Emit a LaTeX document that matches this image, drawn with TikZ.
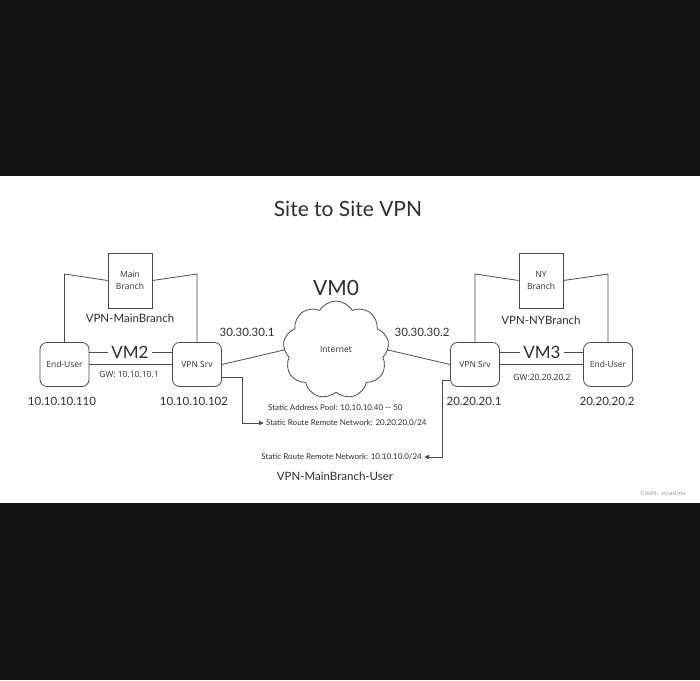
\documentclass[tikz,border=0pt]{standalone}
\usepackage{fontspec}
\setmainfont{Lato}
\newfontfamily\boxfont{Open Sans}
\usetikzlibrary{shapes.symbols,arrows.meta,calc}
\definecolor{linec}{HTML}{4A4A4A}
\definecolor{txt}{HTML}{2E2E2E}
\definecolor{bgdark}{HTML}{111111}
\definecolor{credit}{HTML}{9A9A9A}
\begin{document}
\begin{tikzpicture}[x=1pt,y=-1pt,
  wire/.style={draw=linec, line width=0.8pt},
  arr/.style={wire, -{Latex[length=5pt,width=5pt]}},
  dev/.style={draw=linec, line width=0.8pt, rounded corners=7pt, minimum width=49pt, minimum height=44pt, inner sep=0pt, font=\boxfont\fontsize{8.5}{10}\selectfont, text=txt},
  branch/.style={draw=linec, line width=0.8pt, minimum width=44pt, minimum height=55pt, inner sep=0pt, align=center, font=\boxfont\fontsize{8.5}{12}\selectfont, text=txt},
  lbl/.style={font=\fontsize{11.5}{13}\selectfont, text=txt, inner sep=1pt},
  vmlbl/.style={font=\fontsize{17}{19}\selectfont, text=txt, inner sep=3pt},
  small/.style={font=\fontsize{8}{9}\selectfont, text=txt, inner sep=2pt}
]
% background
\fill[bgdark] (0,0) rectangle (700,680);
\fill[white] (0,176) rectangle (700,503);
\useasboundingbox (0,0) rectangle (700,680);

% title
\node[font=\fontsize{21}{25}\selectfont, text=txt] (title) at (348,209) {Site to Site VPN};

% left site
\node[branch] (mb) at (130,280.5) {Main\\Branch};
\node[lbl] (mbl) at (130,318) {VPN-MainBranch};
\node[dev] (eu1) at (64.5,364.5) {End-User};
\node[dev] (vs1) at (197,364.5) {VPN Srv};
\node[vmlbl] (vm2) at (130,352) {VM2};
\node[font=\boxfont\fontsize{8.5}{10}\selectfont, text=txt] (gw1) at (129,374) {GW: 10.10.10.1};
\node[lbl] (ip1) at (62,401) {10.10.10.110};
\node[lbl] (ip2) at (194,401) {10.10.10.102};
\coordinate (mbL) at (64.5,274);
\coordinate (mbR) at (197,274);
\draw[wire] (mb.west) -- (mbL) -- (eu1.north);
\draw[wire] (mb.east) -- (mbR) -- (vs1.north);
\draw[wire] (eu1.east |- vm2) -- (vm2.west);
\draw[wire] (vm2.east) -- (vs1.west |- vm2);
\draw[wire] (eu1.east) -- (vs1.west);

% cloud
\node[cloud, draw=linec, line width=0.8pt, cloud puffs=9, cloud puff arc=120, aspect=1.15, minimum width=106pt, minimum height=98pt, inner sep=0pt, font=\boxfont\fontsize{8.5}{10}\selectfont, text=txt] (net) at (336,350) {Internet};
\node[font=\fontsize{21}{25}\selectfont, text=txt] (vm0) at (336,288) {VM0};
\node[lbl] (pub1) at (247,332) {30.30.30.1};
\node[lbl] (pub2) at (422,332) {30.30.30.2};
\draw[wire] (vs1.east) -- (net.west);

% right site
\node[branch] (nb) at (541,280.5) {NY\\Branch};
\node[lbl] (nbl) at (541,320) {VPN-NYBranch};
\node[dev] (vs2) at (475,364.5) {VPN Srv};
\node[dev] (eu2) at (608,364.5) {End-User};
\node[vmlbl] (vm3) at (542,352) {VM3};
\node[font=\boxfont\fontsize{8.5}{10}\selectfont, text=txt] (gw2) at (542,377) {GW:20.20.20.2};
\node[lbl] (ip3) at (474,401) {20.20.20.1};
\node[lbl] (ip4) at (607,401) {20.20.20.2};
\coordinate (nbL) at (475,274);
\coordinate (nbR) at (608,274);
\draw[wire] (nb.west) -- (nbL) -- (vs2.north);
\draw[wire] (nb.east) -- (nbR) -- (eu2.north);
\draw[wire] (vs2.east |- vm3) -- (vm3.west);
\draw[wire] (vm3.east) -- (eu2.west |- vm3);
\draw[wire] (vs2.east) -- (eu2.west);
\draw[wire] (net.east) -- (vs2.west);

% static routes
\node[small, anchor=west] (pool) at (266,408) {Static Address Pool: 10.10.10.40 {-}{-} 50};
\node[small, anchor=west] (sr1) at (264,423) {Static Route Remote Network: 20.20.20.0/24};
\node[small, anchor=east] (sr2) at (424,457) {Static Route Remote Network: 10.10.10.0/24};
\node[lbl] (mbu) at (335,476) {VPN-MainBranch-User};
\draw[arr] ($(vs1.east)+(0,12.5)$) -| ($(sr1.west)+(-22,0)$) -- (sr1.west);
\draw[arr] ($(vs2.west)+(0,15.5)$) -| ($(sr2.east)+(18,0)$) -- (sr2.east);

% credit
\node[font=\fontsize{6}{7}\selectfont, text=credit, anchor=east] (cred) at (689,494) {Credit:\ \ sysad.me};
\end{tikzpicture}
\end{document}
